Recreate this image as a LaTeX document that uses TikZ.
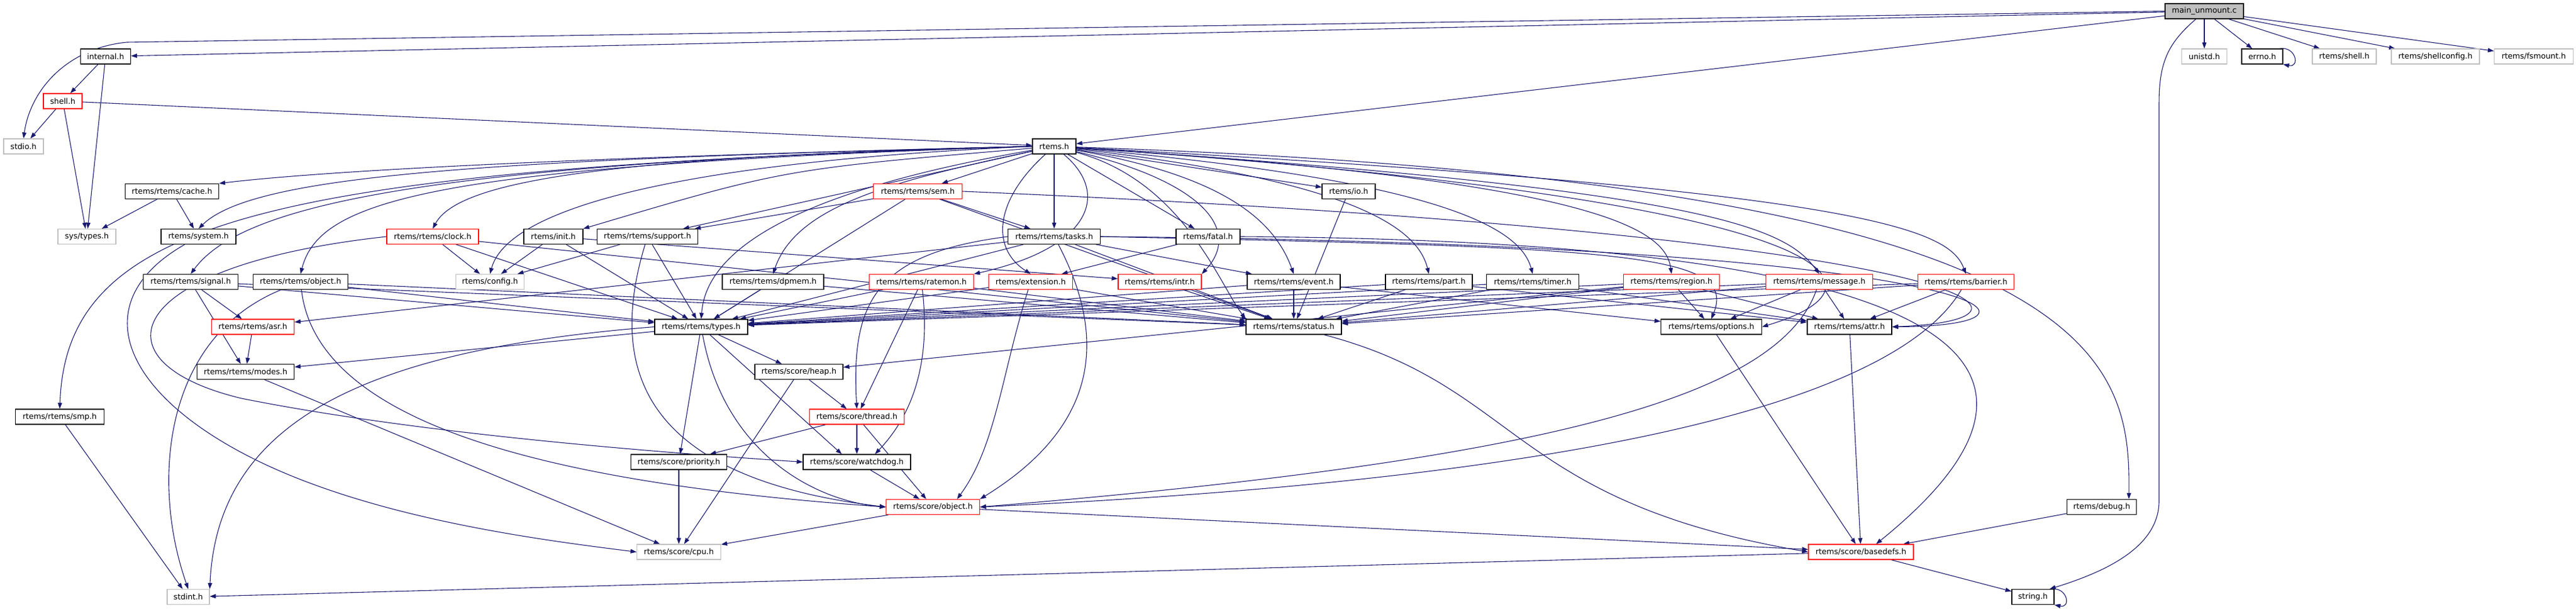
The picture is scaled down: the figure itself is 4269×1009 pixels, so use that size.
\documentclass[tikz,border=0pt]{standalone}
\usepackage{fontspec}
\setmainfont{DejaVu Sans}
\usetikzlibrary{arrows.meta}
\definecolor{edgec}{HTML}{191970}
\definecolor{graybd}{HTML}{BFBFBF}
\pgfdeclarelayer{bg}
\pgfsetlayers{bg,main}
\begin{document}
\begin{tikzpicture}[x=1pt,y=-1pt,
  box/.style={fill=white,minimum height=25pt,inner sep=0pt,line width=1.2pt,font=\fontsize{12.8}{15}\selectfont},
  nb/.style={box,draw=black},
  ng/.style={box,draw=graybd},
  nr/.style={box,draw=red},
  nm/.style={box,draw=black,fill=graybd},
  edge/.style={draw=edgec,line width=1.1pt,-{Triangle[length=10pt,width=7pt]}}]
\useasboundingbox (0,0) rectangle (4269,1009);
% row 1
\node[nm,minimum width=130pt] (main) at (3653,18.5) {main\_unmount.c};
% row 2
\node[nb,minimum width=83pt] (internal) at (175,93.5) {internal.h};
\node[ng,minimum width=75pt] (unistd) at (3653,93.5) {unistd.h};
\node[nb,minimum width=68pt] (errno) at (3749,93.5) {errno.h};
\node[ng,minimum width=106pt] (rshell) at (3885,93.5) {rtems/shell.h};
\node[ng,minimum width=146pt] (shellconfig) at (4036,93.5) {rtems/shellconfig.h};
\node[ng,minimum width=131pt] (fsmount) at (4199,93.5) {rtems/fsmount.h};
% row 3
\node[nr,minimum width=64pt] (shell) at (104,167.5) {shell.h};
% row 4
\node[ng,minimum width=66pt] (stdio) at (39,242.5) {stdio.h};
\node[nb,minimum width=72pt] (rtems) at (1747,242.5) {rtems.h};
% row 5
\node[nb,minimum width=155pt] (cache) at (285,317) {rtems/rtems/cache.h};
\node[nr,minimum width=147pt] (sem) at (1521,317) {rtems/rtems/sem.h};
\node[nb,minimum width=88pt] (io) at (2235,317) {rtems/io.h};
% row 6
\node[ng,minimum width=96pt] (systypes) at (144,392) {sys/types.h};
\node[nb,minimum width=124pt] (system) at (329,392) {rtems/system.h};
\node[nr,minimum width=152pt] (clock) at (717,392) {rtems/rtems/clock.h};
\node[nb,minimum width=98pt] (init) at (917,392) {rtems/init.h};
\node[nb,minimum width=167pt] (support) at (1073,392) {rtems/rtems/support.h};
\node[nb,minimum width=153pt] (tasks) at (1747,392) {rtems/rtems/tasks.h};
\node[nb,minimum width=106pt] (fatal) at (2002,392) {rtems/fatal.h};
% row 7
\node[nb,minimum width=157pt] (signal) at (316,467) {rtems/rtems/signal.h};
\node[nb,minimum width=157pt] (robject) at (498,467) {rtems/rtems/object.h};
\node[ng,minimum width=113pt] (config) at (812,467) {rtems/config.h};
\node[nb,minimum width=168pt] (dpmem) at (1281,467) {rtems/rtems/dpmem.h};
\node[nr,minimum width=173pt] (ratemon) at (1527,467) {rtems/rtems/ratemon.h};
\node[nr,minimum width=139pt] (extension) at (1708,467) {rtems/extension.h};
\node[nr,minimum width=138pt] (intr) at (1922,467) {rtems/rtems/intr.h};
\node[nb,minimum width=154pt] (event) at (2144,467) {rtems/rtems/event.h};
\node[nb,minimum width=144pt] (part) at (2368,467) {rtems/rtems/part.h};
\node[nb,minimum width=153pt] (timer) at (2540,467) {rtems/rtems/timer.h};
\node[nr,minimum width=159pt] (region) at (2770,467) {rtems/rtems/region.h};
\node[nr,minimum width=177pt] (message) at (3015,467) {rtems/rtems/message.h};
\node[nr,minimum width=159pt] (barrier) at (3258,467) {rtems/rtems/barrier.h};
% row 8
\node[nr,minimum width=137pt] (asr) at (419,541.5) {rtems/rtems/asr.h};
\node[nb,minimum width=154pt] (types) at (1162,541.5) {rtems/rtems/types.h};
\node[nb,minimum width=158pt] (status) at (2144,541.5) {rtems/rtems/status.h};
\node[nb,minimum width=167pt] (options) at (2836,541.5) {rtems/rtems/options.h};
\node[nb,minimum width=140pt] (attr) at (3065,541.5) {rtems/rtems/attr.h};
% row 9
\node[nb,minimum width=161pt] (modes) at (407,616) {rtems/rtems/modes.h};
\node[nb,minimum width=146pt] (heap) at (1324,616) {rtems/score/heap.h};
% row 10
\node[nb,minimum width=147pt] (smp) at (99,690.5) {rtems/rtems/smp.h};
\node[nr,minimum width=157pt] (thread) at (1420,690.5) {rtems/score/thread.h};
% row 11
\node[nb,minimum width=159pt] (priority) at (1125,765.5) {rtems/score/priority.h};
\node[nb,minimum width=178pt] (watchdog) at (1420,765.5) {rtems/score/watchdog.h};
% row 12
\node[nr,minimum width=155pt] (sobject) at (1546,840) {rtems/score/object.h};
\node[nb,minimum width=115pt] (debug) at (3483,840) {rtems/debug.h};
% row 13
\node[ng,minimum width=139pt] (cpu) at (1125,914.5) {rtems/score/cpu.h};
\node[nr,minimum width=174pt] (basedefs) at (3084,914.5) {rtems/score/basedefs.h};
% row 14
\node[ng,minimum width=70pt] (stdint) at (312,989) {stdint.h};
\node[nb,minimum width=70pt] (string) at (3369,989) {string.h};

\begin{pgfonlayer}{bg}
% main_unmount.c
\draw[edge] (main.west) -- (210,70) .. controls (110,80) and (50,150) .. (stdio.north);
\draw[edge] (main) -- (internal);
\draw[edge] (main) -- (rtems);
\draw[edge] (main) -- (unistd);
\draw[edge] (main) -- (errno);
\draw[edge] (main) -- (rshell);
\draw[edge] (main) -- (shellconfig);
\draw[edge] (main) -- (fsmount);
\draw[edge] ([xshift=-14pt]main.south) .. controls (3595,70) and (3578,100) .. (3578,170) -- (3578,830) .. controls (3578,910) and (3480,950) .. ([xshift=-8pt]string.north east);
\draw[edge] ([xshift=-6pt]errno.north east) .. controls +(28,-4) and +(28,6) .. (errno.south east);
\draw[edge] ([xshift=-6pt]string.north east) .. controls +(28,-4) and +(28,6) .. (string.south east);
% internal / shell
\draw[edge] (internal) -- (shell);
\draw[edge] (internal) -- (systypes);
\draw[edge] (shell) -- (stdio);
\draw[edge] (shell) -- (systypes);
\draw[edge] (shell) -- (rtems);
% rtems.h
\draw[edge] (rtems.west) .. controls (900,262) and (520,285) .. (cache.north east);
\draw[edge] (rtems.west) .. controls (800,265) and (420,290) .. (system.north);
\draw[edge] (rtems.west) .. controls (450,280) and (110,360) .. (smp.north);
\draw[edge] (rtems.west) .. controls (700,270) and (400,340) .. (signal.north);
\draw[edge] (rtems.west) .. controls (720,275) and (530,330) .. (robject.north);
\draw[edge] (rtems.west) .. controls (1000,260) and (760,300) .. (clock.north);
\draw[edge] (rtems.west) .. controls (1100,270) and (840,350) .. (config.north);
\draw[edge] (rtems) .. controls (1300,280) .. (init.north east);
\draw[edge] (rtems) -- (support);
\draw[edge] (rtems) .. controls (1300,320) and (1170,420) .. (types.north);
\draw[edge] (rtems) -- (sem);
\draw[edge] (rtems) -- (tasks);
\draw[edge] (rtems) .. controls (1480,300) and (1320,340) .. (dpmem.north);
\draw[edge] (rtems) .. controls (1840,320) and (1810,410) .. (ratemon.north east);
\draw[edge] (rtems) .. controls (1650,330) and (1640,410) .. (extension.north);
\draw[edge] (rtems) .. controls (1990,300) and (2060,380) .. (intr.north east);
\draw[edge] (rtems) .. controls (2020,290) and (2110,360) .. (event.north);
\draw[edge] (rtems) .. controls (1960,300) and (2020,470) .. (status.north west);
\draw[edge] (rtems) -- (io);
\draw[edge] (rtems) -- (fatal);
\draw[edge] (rtems) .. controls (2250,300) and (2350,380) .. (part.north);
\draw[edge] (rtems) .. controls (2400,300) and (2520,380) .. (timer.north);
\draw[edge] (rtems) .. controls (2650,300) and (2760,380) .. (region.north);
\draw[edge] (rtems) .. controls (2850,315) and (2960,380) .. (message.north);
\draw[edge] (rtems) .. controls (3050,330) and (3160,470) .. (options.east);
\draw[edge] (rtems) .. controls (3100,315) and (3230,380) .. (barrier.north);
\draw[edge] (rtems) .. controls (3500,300) and (3530,600) .. ([xshift=45pt]debug.north);
% row 5/6
\draw[edge] (cache) -- (systypes);
\draw[edge] (cache) -- (system);
\draw[edge] (system) .. controls (140,500) and (200,650) .. (420,760) .. controls (620,860) and (900,895) .. (cpu.west);
\draw[edge] (clock) -- (config);
\draw[edge] (clock) -- (types);
\draw[edge] (clock) -- (status);
\draw[edge] (clock.west) .. controls (200,440) and (150,600) .. (400,660) .. controls (700,720) and (1100,750) .. (watchdog.west);
\draw[edge] (init) -- (config);
\draw[edge] (init) -- (types);
\draw[edge] (init) -- (intr);
\draw[edge] (support) -- (config);
\draw[edge] (support) -- (types);
\draw[edge] (support) .. controls (1010,600) and (1050,790) .. (sobject.west);
\draw[edge] (sem) -- (support);
\draw[edge] (sem) -- (tasks);
\draw[edge] (sem) -- (types);
\draw[edge] (sem) -- (status);
\draw[edge] (sem.east) .. controls (3300,390) and (3440,530) .. (attr.east);
\draw[edge] (tasks) -- (asr);
\draw[edge] (tasks) -- (types);
\draw[edge] (tasks) -- (status);
\draw[edge] (tasks) -- (event);
\draw[edge] (tasks.west) .. controls (1450,420) and (1410,500) .. (thread.north);
\draw[edge] (tasks) .. controls (1830,550) and (1830,700) .. (sobject.north east);
\draw[edge] (tasks.east) .. controls (2700,410) and (2880,420) .. (options.north);
\draw[edge] (tasks.east) .. controls (3300,405) and (3460,540) .. (attr.east);
\draw[edge] (fatal) -- (extension);
\draw[edge] (fatal.east) .. controls (3400,400) and (3420,650) .. ([xshift=25pt]basedefs.north);
\draw[edge] (io) -- (status);
% row 7
\draw[edge] (signal) -- (asr);
\draw[edge] (signal) -- (modes);
\draw[edge] (signal) -- (types);
\draw[edge] (signal) -- (status);
\draw[edge] (robject) -- (types);
\draw[edge] (robject) -- (status);
\draw[edge] (robject) .. controls (270,560) and (250,800) .. (stdint.north);
\draw[edge] (robject) .. controls (525,700) and (900,800) .. (sobject.west);
\draw[edge] (dpmem) -- (types);
\draw[edge] (dpmem) -- (status);
\draw[edge] (ratemon) -- (types);
\draw[edge] (ratemon) -- (status);
\draw[edge] (ratemon) -- (thread);
\draw[edge] (ratemon) .. controls (1545,620) and (1500,700) .. ([xshift=30pt]watchdog.north);
\draw[edge] (extension) -- (types);
\draw[edge] (extension) -- (status);
\draw[edge] (extension) .. controls (1660,620) and (1650,740) .. ([xshift=40pt]sobject.north);
\draw[edge] (intr) -- (status);
\draw[edge] (event) -- (types);
\draw[edge] (event) -- (status);
\draw[edge] (event) -- (options);
\draw[edge] (part) -- (types);
\draw[edge] (part) -- (status);
\draw[edge] (part) -- (attr);
\draw[edge] (timer) -- (types);
\draw[edge] (timer) -- (status);
\draw[edge] (timer) -- (attr);
\draw[edge] (region) -- (types);
\draw[edge] (region) -- (status);
\draw[edge] (region) -- (options);
\draw[edge] (region) -- (attr);
\draw[edge] (region) -- (heap);
\draw[edge] (message) -- (types);
\draw[edge] (message) -- (status);
\draw[edge] (message) -- (options);
\draw[edge] (message) -- (attr);
\draw[edge] (message) .. controls (2950,650) and (2600,760) .. (sobject.east);
\draw[edge] (barrier) -- (types);
\draw[edge] (barrier) -- (status);
\draw[edge] (barrier) -- (attr);
\draw[edge] (barrier) .. controls (3150,650) and (2700,790) .. (sobject.east);
% row 8
\draw[edge] (asr) -- (modes);
\draw[edge] (types) -- (modes);
\draw[edge] (types.west) .. controls (600,580) and (360,700) .. (stdint.north east);
\draw[edge] (types) -- (heap);
\draw[edge] (types) -- (priority);
\draw[edge] (types) -- ([xshift=-25pt]watchdog.north);
\draw[edge] (types) .. controls (1200,750) and (1350,830) .. (sobject.west);
\draw[edge] (status) .. controls (2520,640) and (2500,830) .. (basedefs.west);
\draw[edge] (options) -- (basedefs);
\draw[edge] (attr) -- (basedefs);
% lower
\draw[edge] (modes) -- (cpu);
\draw[edge] (heap) -- (thread);
\draw[edge] (heap) -- (cpu);
\draw[edge] (smp) -- (stdint);
\draw[edge] (thread) -- (priority);
\draw[edge] (thread) -- (watchdog);
\draw[edge] (thread) -- (sobject);
\draw[edge] (priority) -- (cpu);
\draw[edge] (watchdog) -- (sobject);
\draw[edge] (sobject) -- (cpu);
\draw[edge] (sobject) -- (basedefs);
\draw[edge] (debug) -- (basedefs);
\draw[edge] (basedefs) -- (stdint);
\draw[edge] (basedefs) -- (string);
\end{pgfonlayer}
\end{tikzpicture}
\end{document}
